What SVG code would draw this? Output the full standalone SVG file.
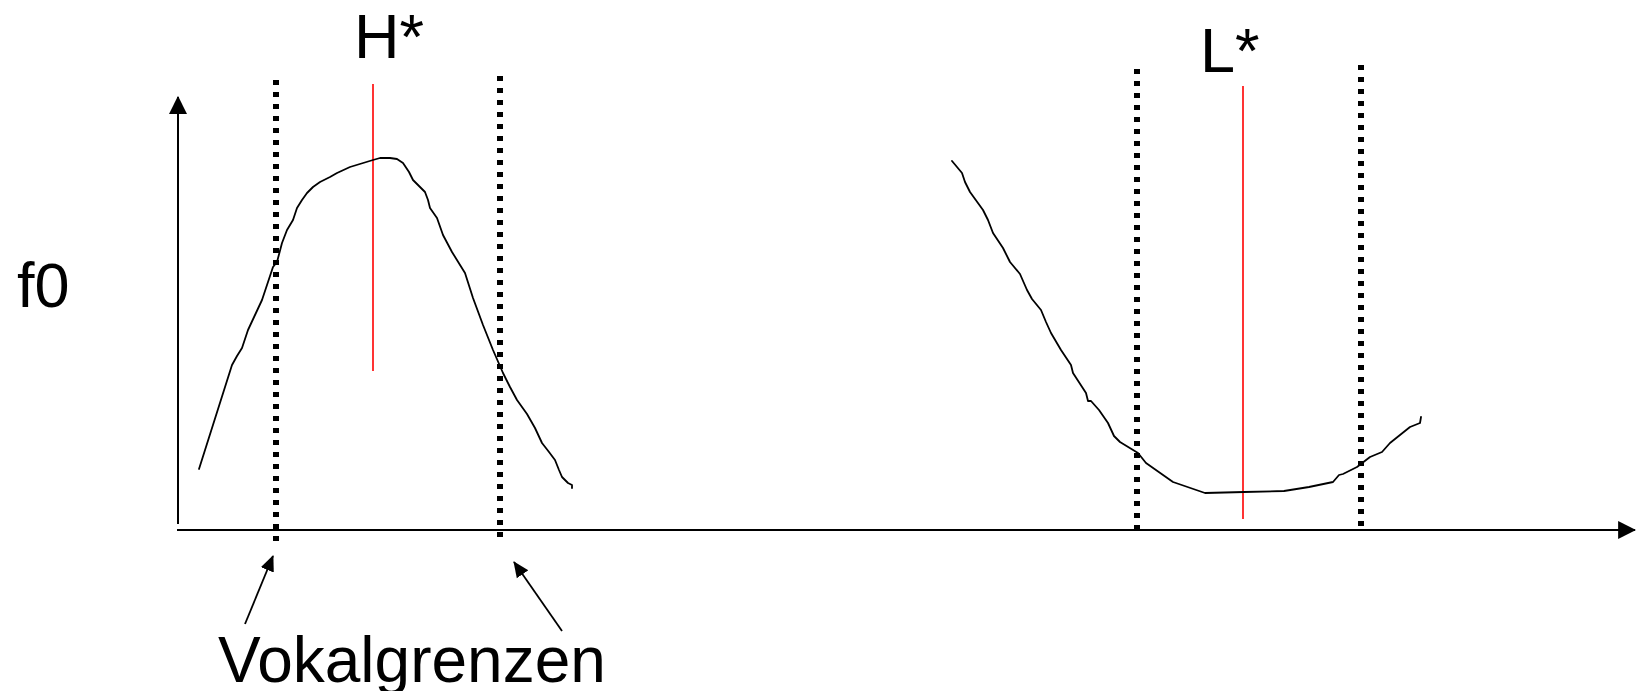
<svg xmlns="http://www.w3.org/2000/svg" width="1637" height="691" viewBox="0 0 1637 691">
<style>
.lbl{font-family:"Liberation Sans",Arial,sans-serif;font-size:63px;fill:#000}
.axis{stroke:#000;stroke-width:2;fill:none}
.dot{stroke:#000;stroke-width:6;stroke-dasharray:5 7;fill:none}
.red{stroke:#ff0000;stroke-width:1.6;fill:none}
.f0c{stroke:#000;stroke-width:1.8;fill:none;stroke-linejoin:round;stroke-linecap:round}
.ptr{stroke:#000;stroke-width:1.8;fill:none}
</style>
<defs>
<marker id="ah" markerUnits="userSpaceOnUse" markerWidth="18" markerHeight="18" viewBox="0 0 16 16" refX="15" refY="8" orient="auto">
<path d="M0,0 L16,8 L0,16 Z" fill="#000"/>
</marker>
<marker id="ahs" markerUnits="userSpaceOnUse" markerWidth="16" markerHeight="16" viewBox="0 0 16 16" refX="15" refY="8" orient="auto">
<path d="M0,1 L16,8 L0,15 Z" fill="#000"/>
</marker>
</defs>
<rect width="1637" height="691" fill="#fff"/>
<g id="axes">
<line class="axis" x1="178" y1="524" x2="178" y2="97" marker-end="url(#ah)"/>
<line class="axis" x1="177" y1="530" x2="1635" y2="530" marker-end="url(#ah)"/>
</g>
<g id="label-f0"><text class="lbl" x="17" y="307">f0</text></g>
<g id="label-H"><text class="lbl" x="354" y="58">H*</text></g>
<g id="label-L"><text class="lbl" x="1200" y="72">L*</text></g>
<g id="label-vokal"><text class="lbl" x="218" y="682" style="font-size:64px">Vokalgrenzen</text></g>
<g id="boundaries">
<line class="dot" x1="276" y1="80" x2="276" y2="542"/>
<line class="dot" x1="500" y1="76" x2="500" y2="537"/>
<line class="dot" x1="1137" y1="69" x2="1137" y2="531"/>
<line class="dot" x1="1361" y1="65" x2="1361" y2="526"/>
</g>
<g id="targets">
<line class="red" x1="373" y1="84" x2="373" y2="371"/>
<line class="red" x1="1243" y1="86" x2="1243" y2="519"/>
</g>
<g id="contour-H">
<path class="f0c" d="M199,469 L232,365 L237,356 L242,348 L248,330 L255,315 L262,300 L273,267 L277,262 L282,243 L287,230 L293,220 L297,208 L302,200 L307,193 L313,187 L320,182 L330,177 L337,173 L350,167 L373,160 L380,158 L390,158 L397,159 L403,163 L409,172 L413,180 L419,186 L425,192 L428,200 L430,208 L437,218 L443,235 L452,252 L465,273 L473,298 L483,325 L493,350 L503,373 L510,387 L517,400 L527,414 L535,428 L542,443 L549,452 L555,460 L559,470 L562,477 L568,483 L572,485 L572,488"/>
</g>
<g id="contour-L">
<path class="f0c" d="M952,161 L962,173 L965,182 L970,192 L983,210 L988,220 L993,233 L1003,248 L1010,262 L1020,274 L1027,290 L1032,299 L1041,310 L1046,322 L1051,333 L1061,350 L1071,365 L1073,373 L1086,393 L1088,401 L1091,401 L1099,410 L1108,423 L1114,436 L1120,442 L1138,453 L1146,463 L1173,482 L1205,493 L1244,492 L1284,491 L1309,487 L1333,482 L1339,475 L1343,474 L1357,467 L1370,457 L1382,452 L1390,443 L1410,427 L1420,423 L1421,417"/>
</g>
<g id="connectors">
<line class="ptr" x1="245" y1="624" x2="273" y2="556" marker-end="url(#ahs)"/>
<line class="ptr" x1="562" y1="631" x2="514" y2="562" marker-end="url(#ahs)"/>
</g>
</svg>
